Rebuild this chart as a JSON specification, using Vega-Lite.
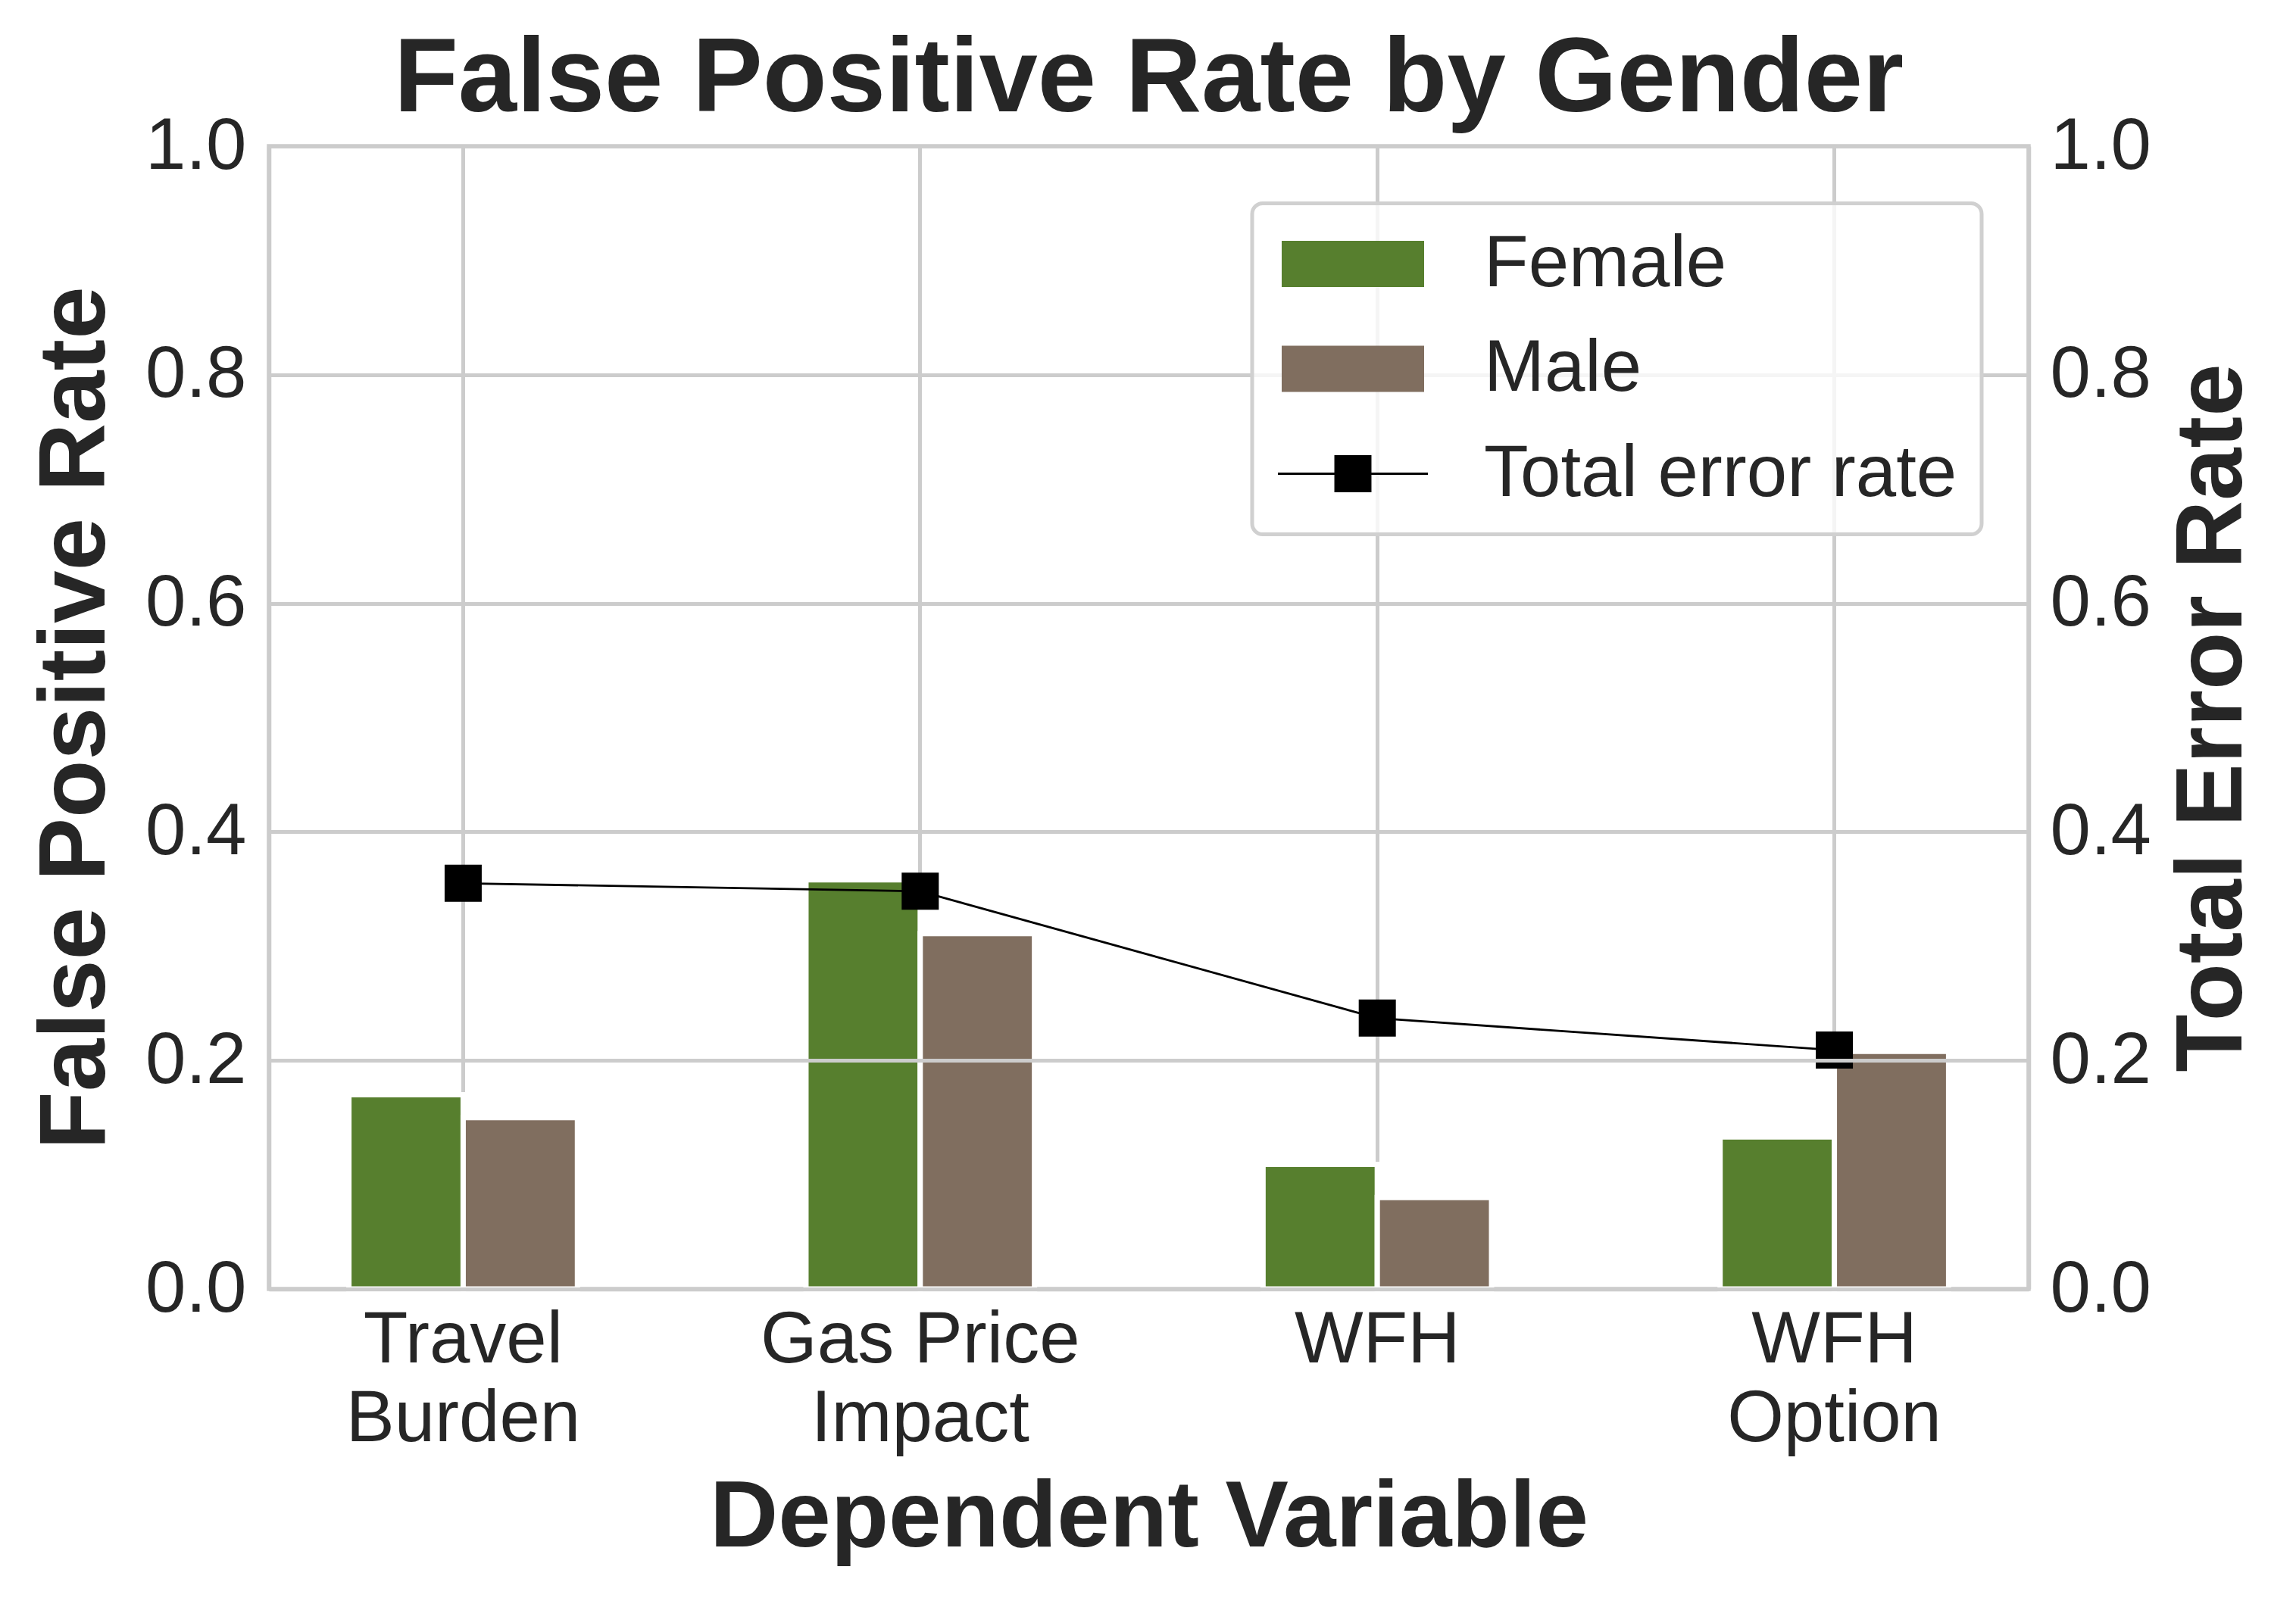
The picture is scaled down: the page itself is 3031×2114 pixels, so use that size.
{
  "$schema": "https://vega.github.io/schema/vega-lite/v6.json",
  "width": 2323,
  "height": 1509,
  "autosize": {"type": "none"},
  "padding": {"left": 355, "top": 193, "right": 353, "bottom": 412},
  "background": "white",
  "title": {
    "text": "False Positive Rate by Gender",
    "fontSize": 139,
    "fontWeight": "bold",
    "font": "Liberation Sans",
    "color": "#262626",
    "anchor": "middle",
    "frame": "group",
    "baseline": "alphabetic",
    "offset": -141
  },
  "datasets": {
    "rates": [
      {"variable": "Travel Burden", "group": "Female", "fpr": 0.170},
      {"variable": "Travel Burden", "group": "Male", "fpr": 0.150},
      {"variable": "Gas Price Impact", "group": "Female", "fpr": 0.358},
      {"variable": "Gas Price Impact", "group": "Male", "fpr": 0.311},
      {"variable": "WFH", "group": "Female", "fpr": 0.109},
      {"variable": "WFH", "group": "Male", "fpr": 0.080},
      {"variable": "WFH Option", "group": "Female", "fpr": 0.133},
      {"variable": "WFH Option", "group": "Male", "fpr": 0.208}
    ],
    "totals": [
      {"variable": "Travel Burden", "group": "Total error rate", "total": 0.355},
      {"variable": "Gas Price Impact", "group": "Total error rate", "total": 0.348},
      {"variable": "WFH", "group": "Total error rate", "total": 0.237},
      {"variable": "WFH Option", "group": "Total error rate", "total": 0.209}
    ]
  },
  "config": {
    "font": "Liberation Sans",
    "view": {"stroke": "#cccccc", "strokeWidth": 5.5},
    "axis": {
      "labelFont": "Liberation Sans",
      "labelFontSize": 96,
      "labelColor": "#262626",
      "labelLimit": 0,
      "titleFont": "Liberation Sans",
      "titleFontSize": 125,
      "titleFontWeight": "bold",
      "titleColor": "#262626",
      "ticks": false,
      "tickSize": 0,
      "domainColor": "#cccccc",
      "domainWidth": 5.5,
      "gridColor": "#cccccc",
      "gridWidth": 5
    },
    "legend": {
      "labelFont": "Liberation Sans",
      "labelFontSize": 96,
      "labelColor": "#262626",
      "labelLimit": 0
    }
  },
  "layer": [
    {
      "data": {"name": "rates"},
      "mark": {"type": "bar", "stroke": "white", "strokeWidth": 7},
      "encoding": {
        "x": {
          "field": "variable",
          "type": "nominal",
          "sort": ["Travel Burden", "Gas Price Impact", "WFH", "WFH Option"],
          "scale": {"paddingInner": 0.5, "paddingOuter": 0.175},
          "axis": {
            "title": "Dependent Variable",
            "labelAngle": 0,
            "labelPadding": 20,
            "titlePadding": 40,
            "bandPosition": 0.5,
            "grid": true,
            "labelLineHeight": 104,
            "labelExpr": "datum.value === 'Travel Burden' ? ['Travel\u00a0', '\u00a0Burden'] : datum.value === 'Gas Price Impact' ? ['Gas Price\u00a0', '\u00a0Impact'] : datum.value === 'WFH Option' ? ['WFH\u00a0', '\u00a0Option'] : datum.value",
            "zindex": 0
          }
        },
        "xOffset": {"field": "group", "type": "nominal", "sort": ["Female", "Male"]},
        "y": {
          "field": "fpr",
          "type": "quantitative",
          "scale": {"domain": [0, 1], "nice": false},
          "axis": {
            "orient": "left",
            "title": "False Positive Rate",
            "values": [0, 0.2, 0.4, 0.6, 0.8, 1.0],
            "format": ".1f",
            "grid": false,
            "labelPadding": 30,
            "titlePadding": 28,
            "zindex": 1
          }
        },
        "color": {
          "field": "group",
          "type": "nominal",
          "scale": {"domain": ["Female", "Male", "Total error rate"], "range": ["#577f2e", "#806e5f", "#000000"]},
          "legend": {
            "title": null,
            "orient": "none",
            "legendX": 1298,
            "legendY": 75.5,
            "direction": "vertical",
            "padding": 32,
            "fillColor": "rgba(255,255,255,0.8)",
            "strokeColor": "#d0d0d0",
            "cornerRadius": 14,
            "symbolSize": 8100,
            "symbolOffset": 53,
            "labelOffset": 125,
            "labelLimit": 0,
            "rowPadding": 42.5,
            "symbolStrokeWidth": 0,
            "symbolOpacity": 1,
            "zindex": 3,
            "encode": {
              "legend": {"update": {"strokeWidth": {"value": 5}}},
              "symbols": {
                "update": {
                  "shape": {"signal": "datum.value === 'Total error rate' ? 'M-2.2,-0.031H-0.544V-0.544H0.544V-0.031H2.2V0.031H0.544V0.544H-0.544V0.031H-2.2Z' : 'M-2.089,-0.678H2.089V0.678H-2.089Z'"},
                  "fill": {"signal": "datum.value === 'Female' ? '#577f2e' : datum.value === 'Male' ? '#806e5f' : '#000000'"},
                  "opacity": {"value": 1}
                }
              }
            }
          }
        }
      }
    },
    {
      "data": {"name": "totals"},
      "encoding": {
        "x": {"field": "variable", "type": "nominal", "sort": ["Travel Burden", "Gas Price Impact", "WFH", "WFH Option"]},
        "y": {
          "field": "total",
          "type": "quantitative",
          "scale": {"domain": [0, 1], "nice": false},
          "axis": {
            "orient": "right",
            "title": "Total Error Rate",
            "values": [0, 0.2, 0.4, 0.6, 0.8, 1.0],
            "format": ".1f",
            "grid": true,
            "labelPadding": 28,
            "titlePadding": 20,
            "titleAngle": 270,
            "titleBaseline": "top",
            "zindex": 1
          }
        },
        "color": {
          "field": "group",
          "type": "nominal",
          "scale": {"domain": ["Female", "Male", "Total error rate"], "range": ["#577f2e", "#806e5f", "#000000"]},
          "legend": {
            "title": null,
            "orient": "none",
            "legendX": 1298,
            "legendY": 75.5,
            "direction": "vertical",
            "padding": 32,
            "fillColor": "rgba(255,255,255,0.8)",
            "strokeColor": "#d0d0d0",
            "cornerRadius": 14,
            "symbolSize": 8100,
            "symbolOffset": 53,
            "labelOffset": 125,
            "labelLimit": 0,
            "rowPadding": 42.5,
            "symbolStrokeWidth": 0,
            "symbolOpacity": 1,
            "zindex": 3,
            "encode": {
              "legend": {"update": {"strokeWidth": {"value": 5}}},
              "symbols": {
                "update": {
                  "shape": {"signal": "datum.value === 'Total error rate' ? 'M-2.2,-0.031H-0.544V-0.544H0.544V-0.031H2.2V0.031H0.544V0.544H-0.544V0.031H-2.2Z' : 'M-2.089,-0.678H2.089V0.678H-2.089Z'"},
                  "fill": {"signal": "datum.value === 'Female' ? '#577f2e' : datum.value === 'Male' ? '#806e5f' : '#000000'"},
                  "opacity": {"value": 1}
                }
              }
            }
          }
        }
      },
      "layer": [
        {"mark": {"type": "line", "strokeWidth": 2.8, "zindex": 2}},
        {"mark": {"type": "point", "shape": "square", "filled": true, "size": 2401, "opacity": 1, "zindex": 2}}
      ]
    }
  ],
  "resolve": {"scale": {"y": "independent"}}
}
